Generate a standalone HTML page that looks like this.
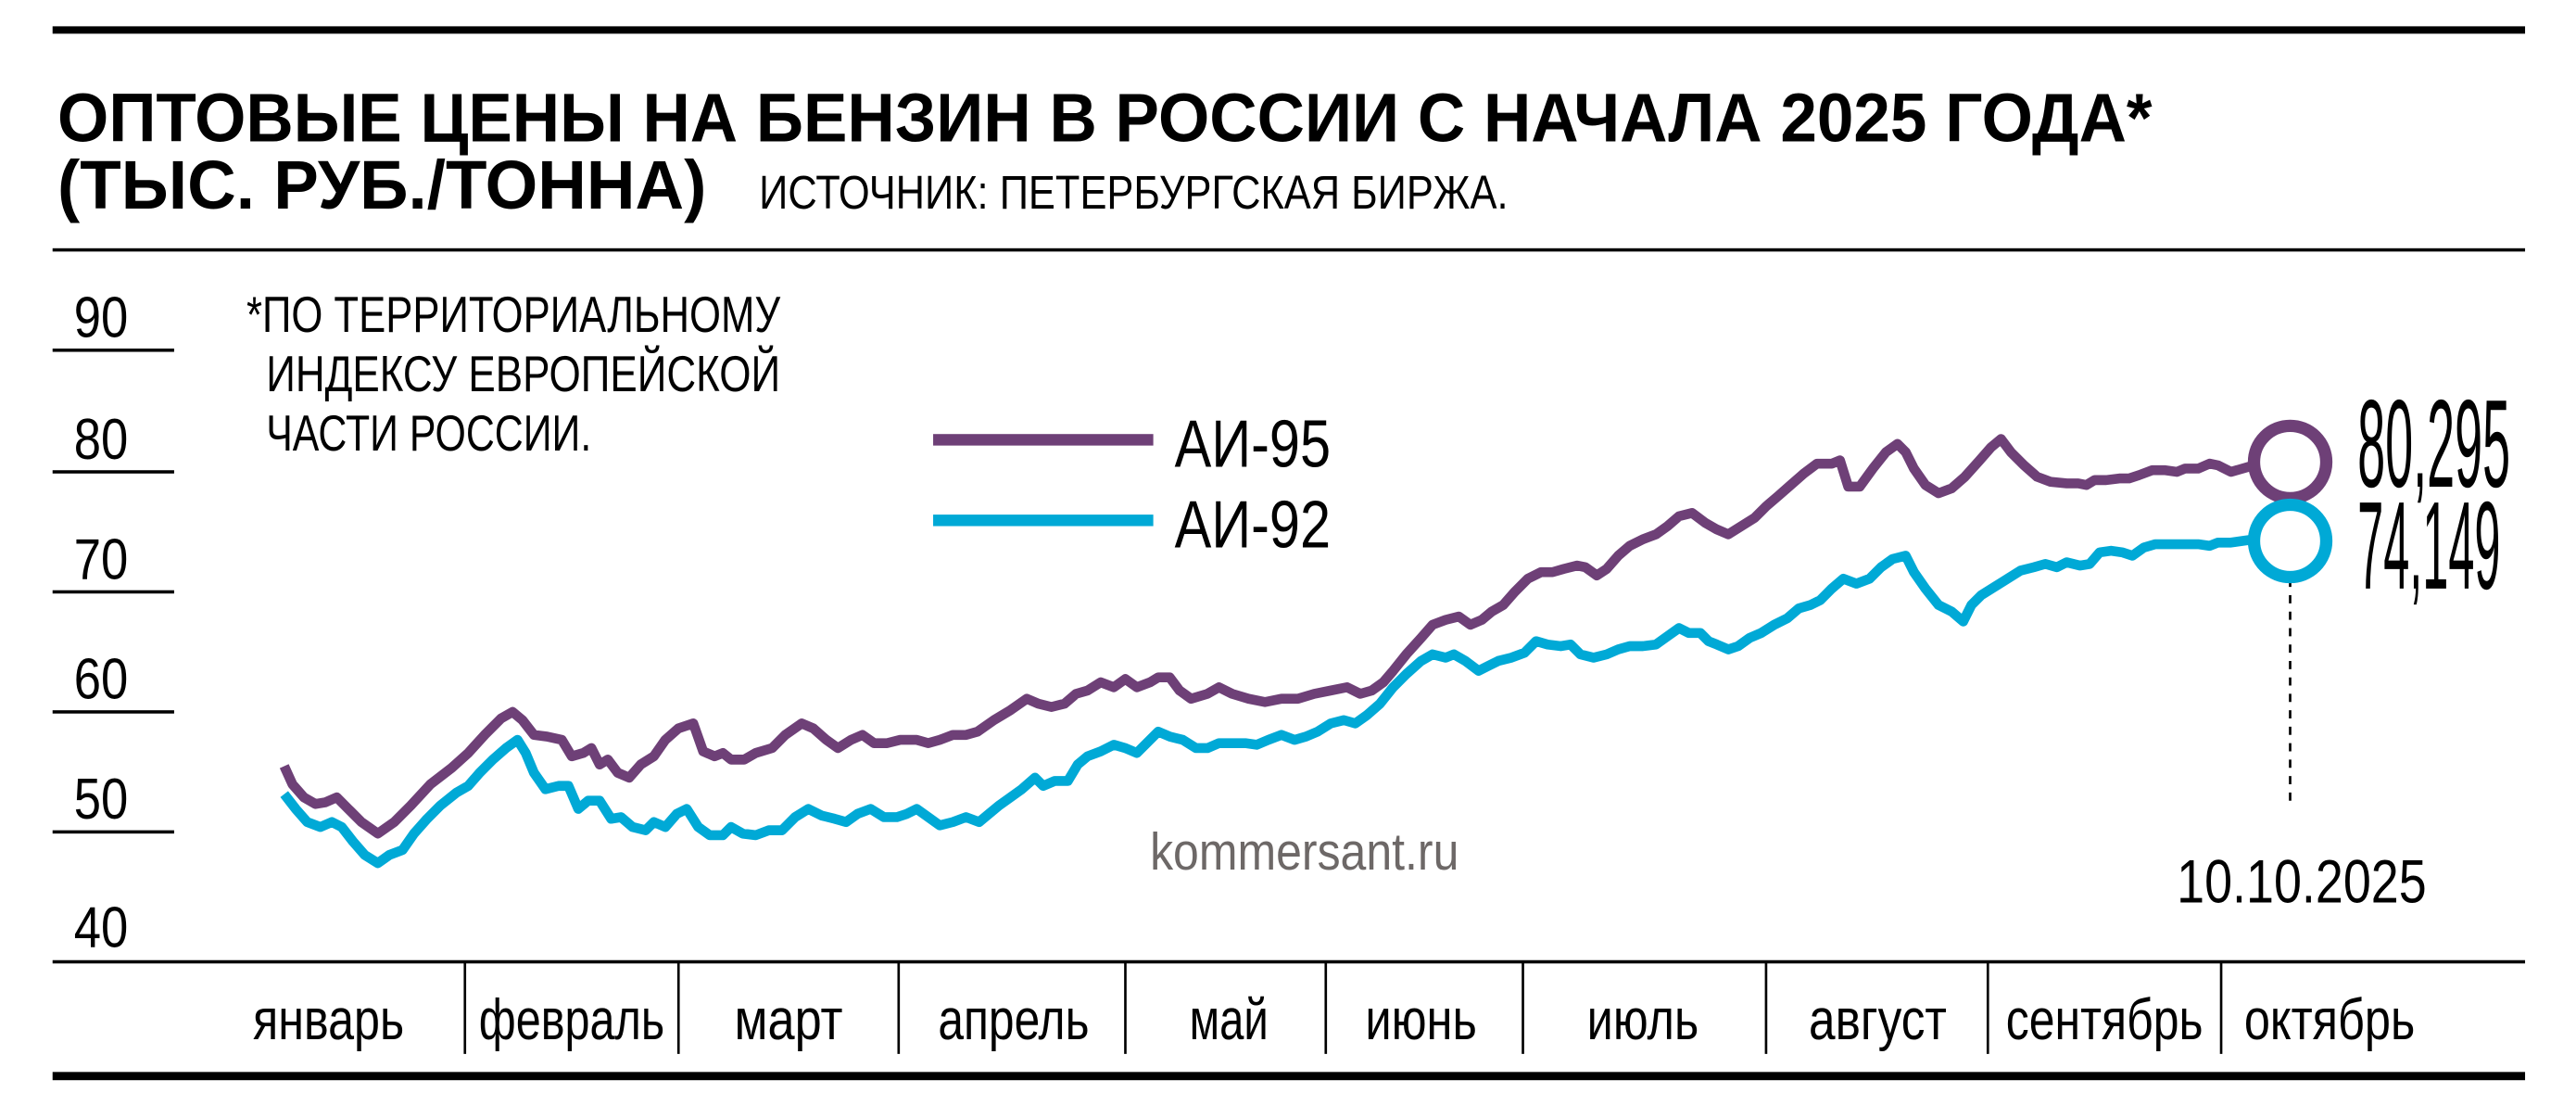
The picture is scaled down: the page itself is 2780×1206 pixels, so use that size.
<!DOCTYPE html>
<html><head><meta charset="utf-8"><style>
html,body{margin:0;padding:0;background:#fff;}
svg{display:block;}
text{font-family:"Liberation Sans",sans-serif;}
</style></head><body>
<svg width="2780" height="1206" viewBox="0 0 1568 680" preserveAspectRatio="none" xmlns="http://www.w3.org/2000/svg">
<rect x="32" y="16" width="1505" height="4.5" fill="#000"/>
<text x="35" y="86" font-size="42" font-weight="bold" textLength="1275" lengthAdjust="spacingAndGlyphs">ОПТОВЫЕ ЦЕНЫ НА БЕНЗИН В РОССИИ С НАЧАЛА 2025 ГОДА*</text>
<text x="35" y="127" font-size="42" font-weight="bold" textLength="395" lengthAdjust="spacingAndGlyphs">(ТЫС. РУБ./ТОННА)</text>
<text x="462" y="127" font-size="29" textLength="456" lengthAdjust="spacingAndGlyphs">ИСТОЧНИК: ПЕТЕРБУРГСКАЯ БИРЖА.</text>
<rect x="32" y="151" width="1505" height="2" fill="#000"/>
<g font-size="35">
<text x="45" y="205" textLength="33" lengthAdjust="spacingAndGlyphs">90</text>
<text x="45" y="279" textLength="33" lengthAdjust="spacingAndGlyphs">80</text>
<text x="45" y="352" textLength="33" lengthAdjust="spacingAndGlyphs">70</text>
<text x="45" y="425" textLength="33" lengthAdjust="spacingAndGlyphs">60</text>
<text x="45" y="498" textLength="33" lengthAdjust="spacingAndGlyphs">50</text>
<text x="45" y="576" textLength="33" lengthAdjust="spacingAndGlyphs">40</text>
</g>
<g fill="#000">
<rect x="32" y="212" width="74" height="2"/>
<rect x="32" y="286" width="74" height="2"/>
<rect x="32" y="359" width="74" height="2"/>
<rect x="32" y="432" width="74" height="2"/>
<rect x="32" y="505" width="74" height="2"/>
</g>
<g font-size="31">
<text x="150" y="202" textLength="325" lengthAdjust="spacingAndGlyphs">*ПО ТЕРРИТОРИАЛЬНОМУ</text>
<text x="162" y="238" textLength="313" lengthAdjust="spacingAndGlyphs">ИНДЕКСУ ЕВРОПЕЙСКОЙ</text>
<text x="162" y="274" textLength="198" lengthAdjust="spacingAndGlyphs">ЧАСТИ РОССИИ.</text>
</g>
<rect x="568" y="264" width="134" height="7" fill="#6e4077"/>
<rect x="568" y="313" width="134" height="7" fill="#00a9d6"/>
<text x="715" y="284" font-size="41" textLength="95" lengthAdjust="spacingAndGlyphs">АИ-95</text>
<text x="715" y="333" font-size="41" textLength="95" lengthAdjust="spacingAndGlyphs">АИ-92</text>
<text x="700" y="529" font-size="32" fill="#6d6867" textLength="188" lengthAdjust="spacingAndGlyphs">kommersant.ru</text>
<polyline fill="none" stroke="#6e4077" stroke-width="6" stroke-linejoin="round" points="173,466 178,477 185,485 192,489 198,488 205,485 212,492 220,500 230,507 240,500 250,490 262,477 275,467 285,458 295,447 305,437 312,433 318,438 325,447 333,448 342,450 348,460 355,458 360,455 365,465 370,462 376,470 383,473 390,465 398,460 405,450 413,443 422,440 428,457 435,460 440,458 445,462 453,462 460,458 470,455 478,447 488,440 495,443 503,450 510,455 518,450 525,447 532,452 540,452 548,450 558,450 565,452 572,450 580,447 588,447 595,445 605,438 615,432 625,425 632,428 640,430 648,428 655,422 662,420 670,415 678,418 685,413 692,418 700,415 705,412 712,412 718,420 725,425 735,422 742,418 750,422 760,425 770,427 780,425 790,425 800,422 810,420 820,418 828,422 835,420 842,415 848,408 856,398 865,388 872,380 880,377 888,375 895,380 902,377 908,372 915,368 922,360 930,352 938,348 945,348 952,346 960,344 965,345 972,350 978,346 985,338 992,332 1000,328 1008,325 1015,320 1022,314 1030,312 1038,318 1045,322 1052,325 1060,320 1068,315 1075,308 1082,302 1090,295 1098,288 1106,282 1115,282 1120,280 1125,296 1132,296 1140,285 1148,275 1155,270 1160,275 1165,285 1172,295 1180,300 1188,297 1196,290 1205,280 1212,272 1218,267 1224,275 1232,283 1240,290 1248,293 1258,294 1265,294 1270,295 1275,292 1282,292 1290,291 1296,291 1302,289 1310,286 1318,286 1325,287 1330,285 1338,285 1345,282 1350,283 1358,287 1372,283"/>
<polyline fill="none" stroke="#00a9d6" stroke-width="6" stroke-linejoin="round" points="173,483 180,492 187,500 195,503 202,500 208,503 215,512 222,520 230,525 237,520 245,517 252,507 260,498 268,490 278,482 285,478 292,470 300,462 308,455 315,450 320,458 325,470 332,480 340,478 346,478 352,492 358,487 365,487 372,498 378,497 385,503 393,505 398,500 405,503 412,495 418,492 425,503 432,508 440,508 445,503 452,507 460,508 468,505 476,505 484,497 492,492 500,496 508,498 515,500 522,495 530,492 538,497 546,497 552,495 558,492 565,497 572,502 580,500 588,497 596,500 602,495 608,490 615,485 622,480 630,473 635,478 642,475 650,475 656,465 662,460 670,457 678,453 685,455 692,458 698,452 705,445 712,448 720,450 728,455 735,455 742,452 750,452 758,452 765,453 772,450 780,447 788,450 795,448 802,445 810,440 818,438 825,440 832,435 840,428 848,418 856,410 865,402 872,398 880,400 885,398 892,402 900,408 906,405 912,402 920,400 928,397 935,390 942,392 950,393 956,392 962,398 970,400 978,398 985,395 992,393 1000,393 1008,392 1015,387 1022,382 1028,385 1035,385 1040,390 1045,392 1052,395 1058,393 1065,388 1072,385 1080,380 1088,376 1095,370 1102,368 1108,365 1115,358 1122,352 1130,355 1138,352 1145,345 1152,340 1160,338 1165,348 1172,358 1180,368 1188,372 1195,378 1200,368 1206,362 1214,357 1222,352 1230,347 1238,345 1245,343 1252,345 1258,342 1266,344 1272,343 1278,336 1285,335 1292,336 1298,338 1305,333 1312,331 1320,331 1328,331 1338,331 1345,332 1350,330 1358,330 1372,328"/>
<line x1="1394" y1="352" x2="1394" y2="488" stroke="#000" stroke-width="1.5" stroke-dasharray="5,5"/>
<circle cx="1394" cy="281" r="22" fill="#fff" stroke="#6e4077" stroke-width="7.5"/>
<circle cx="1394" cy="329" r="22" fill="#fff" stroke="#00a9d6" stroke-width="7.5"/>
<text x="1435" y="296" font-size="76" textLength="93" lengthAdjust="spacingAndGlyphs">80,295</text>
<text x="1435" y="358" font-size="76" textLength="87" lengthAdjust="spacingAndGlyphs">74,149</text>
<text x="1325" y="549" font-size="37" textLength="152" lengthAdjust="spacingAndGlyphs">10.10.2025</text>
<rect x="32" y="584" width="1505" height="2" fill="#000"/>
<g stroke="#000" stroke-width="1.5">
<line x1="283" y1="585" x2="283" y2="641"/><line x1="413" y1="585" x2="413" y2="641"/>
<line x1="547" y1="585" x2="547" y2="641"/><line x1="685" y1="585" x2="685" y2="641"/>
<line x1="807" y1="585" x2="807" y2="641"/><line x1="927" y1="585" x2="927" y2="641"/>
<line x1="1075" y1="585" x2="1075" y2="641"/><line x1="1210" y1="585" x2="1210" y2="641"/>
<line x1="1352" y1="585" x2="1352" y2="641"/>
</g>
<g font-size="35" text-anchor="middle">
<text x="200" y="632" textLength="92" lengthAdjust="spacingAndGlyphs">январь</text>
<text x="348" y="632" textLength="113" lengthAdjust="spacingAndGlyphs">февраль</text>
<text x="480" y="632" textLength="66" lengthAdjust="spacingAndGlyphs">март</text>
<text x="617" y="632" textLength="92" lengthAdjust="spacingAndGlyphs">апрель</text>
<text x="748" y="632" textLength="48" lengthAdjust="spacingAndGlyphs">май</text>
<text x="865" y="632" textLength="68" lengthAdjust="spacingAndGlyphs">июнь</text>
<text x="1000" y="632" textLength="68" lengthAdjust="spacingAndGlyphs">июль</text>
<text x="1143" y="632" textLength="84" lengthAdjust="spacingAndGlyphs">август</text>
<text x="1281" y="632" textLength="120" lengthAdjust="spacingAndGlyphs">сентябрь</text>
<text x="1418" y="632" textLength="104" lengthAdjust="spacingAndGlyphs">октябрь</text>
</g>
<rect x="32" y="652" width="1505" height="5" fill="#000"/>
</svg>
</body></html>
